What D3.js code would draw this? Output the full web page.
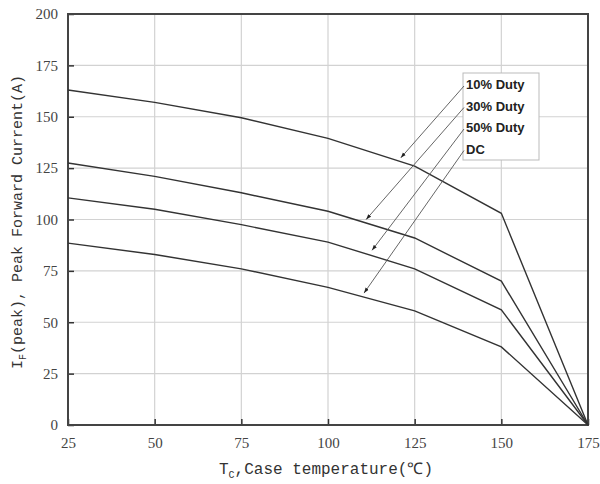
<!DOCTYPE html>
<html><head><meta charset="utf-8">
<script src="https://cdn.jsdelivr.net/npm/d3@7"></script>
<style>body{margin:0;background:#fff}</style>
</head><body>
<svg id="c" width="600" height="484"></svg>
<script>
const temps = [25, 50, 75, 100, 125, 150, 175];
const duty10 = [163, 157, 149.5, 139.5, 126, 103, 0];
const duty30 = [127.5, 121, 113, 104, 91, 70, 0];
const duty50 = [110.5, 105, 97.5, 89, 76, 56, 0];
const dcVals = [88.5, 83, 76, 67, 55.5, 38, 0];
const seriesNames = ["10% Duty", "30% Duty", "50% Duty", "DC"];
const arrowTipT = [121, 111, 112.7, 110.4];
const arrowTipI = [130, 100, 85, 64.2];
const xTicks = [25, 50, 75, 100, 125, 150, 175];
const yTicks = [0, 25, 50, 75, 100, 125, 150, 175, 200];

const svg = d3.select("#c");
const L = 68, R = 588, T = 14, B = 425;
const x = d3.scaleLinear().domain([25, 175]).range([L, R]);
const y = d3.scaleLinear().domain([0, 200]).range([B, T]);

// grid
svg.append("g").selectAll("line").data(xTicks).join("line")
  .attr("x1", d => x(d)).attr("x2", d => x(d)).attr("y1", T).attr("y2", B)
  .attr("stroke", "#d2d2d2").attr("stroke-width", 1.2);
svg.append("g").selectAll("line").data(yTicks).join("line")
  .attr("x1", L).attr("x2", R).attr("y1", d => y(d)).attr("y2", d => y(d))
  .attr("stroke", "#d2d2d2").attr("stroke-width", 1.2);

// axes with inward ticks
const xAxis = d3.axisBottom(x).tickValues(xTicks).tickSize(-6).tickPadding(12).tickFormat(d3.format("d"));
const yAxis = d3.axisLeft(y).tickValues(yTicks).tickSize(-6).tickPadding(10).tickFormat(d3.format("d"));
const gx = svg.append("g").attr("transform", `translate(0,${B})`).call(xAxis);
const gy = svg.append("g").attr("transform", `translate(${L},0)`).call(yAxis);
[gx, gy].forEach(g => {
  g.select(".domain").remove();
  g.selectAll(".tick line").attr("stroke", "#333").attr("stroke-width", 1.5);
  g.selectAll("text").attr("font-family", "Liberation Serif").attr("font-size", 15).attr("fill", "#444");
});

// frame
svg.append("rect").attr("x", L).attr("y", T).attr("width", R - L).attr("height", B - T)
  .attr("fill", "none").attr("stroke", "#444").attr("stroke-width", 2);

// curves
const all = [duty10, duty30, duty50, dcVals];
const line = d3.line().x(d => x(d[0])).y(d => y(d[1]));
all.forEach(vals => {
  svg.append("path").datum(temps.map((t, i) => [t, vals[i]]))
    .attr("d", line).attr("fill", "none").attr("stroke", "#333").attr("stroke-width", 1.4);
});

// legend
const lgX = 463, lgY = 73, lgW = 76, lgH = 87;
svg.append("rect").attr("x", lgX).attr("y", lgY).attr("width", lgW).attr("height", lgH)
  .attr("fill", "#fff").attr("stroke", "#bbb").attr("stroke-width", 1);
svg.append("defs").append("marker").attr("id", "ah").attr("viewBox", "0 0 10 10")
  .attr("refX", 10).attr("refY", 5).attr("markerWidth", 6).attr("markerHeight", 6)
  .attr("orient", "auto").append("path").attr("d", "M0,1.5L10,5L0,8.5Z").attr("fill", "#222");
seriesNames.forEach((n, i) => {
  const ty = lgY + 13 + i * 21.5;
  svg.append("text").attr("x", lgX + 3).attr("y", ty).attr("dominant-baseline", "middle")
    .attr("font-family", "Liberation Sans").attr("font-weight", "bold").attr("font-size", 13)
    .attr("fill", "#222").text(n);
  svg.append("line").attr("x1", lgX + 1).attr("y1", ty)
    .attr("x2", x(arrowTipT[i])).attr("y2", y(arrowTipI[i]))
    .attr("stroke", "#555").attr("stroke-width", 0.9).attr("marker-end", "url(#ah)");
});

// axis labels
const xl = svg.append("text").attr("x", 326).attr("y", 474).attr("text-anchor", "middle")
  .attr("font-family", "Liberation Mono").attr("font-size", 16).attr("fill", "#333");
xl.append("tspan").text("T");
xl.append("tspan").attr("font-size", 10).attr("dy", 4).text("C");
xl.append("tspan").attr("dy", -4).text(",Case temperature(℃)");

const yl = svg.append("text").attr("transform", "translate(22,222) rotate(-90)").attr("text-anchor", "middle")
  .attr("font-family", "Liberation Mono").attr("font-size", 15).attr("fill", "#333");
yl.append("tspan").text("I");
yl.append("tspan").attr("font-size", 10).attr("dy", 4).text("F");
yl.append("tspan").attr("dy", -4).text("(peak), Peak Forward Current(A)");
</script>
</body></html>
